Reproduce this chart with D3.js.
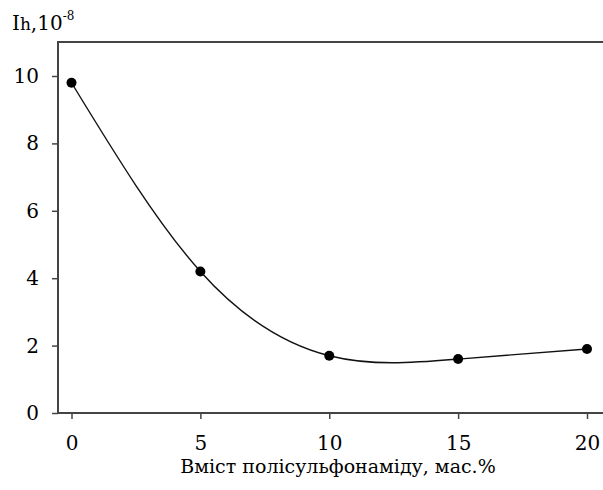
<!DOCTYPE html>
<html>
<head>
<meta charset="utf-8">
<script src="https://cdn.jsdelivr.net/npm/d3@7"></script>
<style>
  body { margin: 0; background: #fff; }
</style>
</head>
<body>
<svg id="chart" width="603" height="490"></svg>
<script>
// data
var content = [0, 5, 10, 15, 20];
var current = [9.8, 4.2, 1.7, 1.6, 1.9];
var xTicks = [0, 5, 10, 15, 20];
var yTicks = [0, 2, 4, 6, 8, 10];

var serif = "DejaVu Serif";
var svg = d3.select("#chart");

// plot edges
var plotLeft = 58, plotTop = 42, plotBottom = 413, plotRight = 603;

var x = d3.scaleLinear().domain([0, 20]).range([71.5, 587]);
var y = d3.scaleLinear().domain([0, 10]).range([plotBottom, 76]);

var yAxis = svg.append("g")
  .attr("transform", "translate(" + plotLeft + ",0)")
  .call(d3.axisLeft(y).tickValues(yTicks).tickSize(6).tickPadding(13).tickFormat(d3.format("d")));
yAxis.select(".domain").remove();

var xAxis = svg.append("g")
  .attr("transform", "translate(0," + plotBottom + ")")
  .call(d3.axisBottom(x).tickValues(xTicks).tickSize(6).tickPadding(17).tickFormat(d3.format("d")));
xAxis.select(".domain").remove();

yAxis.attr("font-family", serif).attr("font-size", 20);
xAxis.attr("font-family", serif).attr("font-size", 20);
svg.selectAll(".tick line").attr("stroke", "#444").attr("stroke-width", 1.5);
svg.selectAll(".tick text").attr("fill", "#000");

// frame: open on the right, drawn as one path
var frame = d3.path();
frame.moveTo(plotRight, plotTop);
frame.lineTo(plotLeft, plotTop);
frame.lineTo(plotLeft, plotBottom);
frame.lineTo(plotRight, plotBottom);
svg.append("path")
  .attr("d", frame.toString())
  .attr("fill", "none")
  .attr("stroke", "#444")
  .attr("stroke-width", 2);

// smooth curve through the points
var line = d3.line()
  .x(function(d, i) { return x(content[i]); })
  .y(function(d) { return y(d); })
  .curve(d3.curveNatural);

svg.append("path")
  .datum(current)
  .attr("d", line)
  .attr("fill", "none")
  .attr("stroke", "#111")
  .attr("stroke-width", 1.4);

svg.selectAll(".pt")
  .data(current)
  .enter().append("circle")
  .attr("class", "pt")
  .attr("cx", function(d, i) { return x(content[i]); })
  .attr("cy", function(d) { return y(d); })
  .attr("r", 5)
  .attr("fill", "#000");

// axis titles
var yTitle = svg.append("text")
  .attr("x", 12).attr("y", 30)
  .attr("font-family", serif)
  .attr("font-size", 20);
yTitle.append("tspan").text("I");
yTitle.append("tspan").attr("font-size", 17).text("h");
yTitle.append("tspan").text(",10");
yTitle.append("tspan").attr("dy", -10).attr("font-size", 12).text("-8");

svg.append("text")
  .attr("x", 338).attr("y", 473)
  .attr("text-anchor", "middle")
  .attr("font-family", serif)
  .attr("font-size", 19)
  .text("Вміст полісульфонаміду, мас.%");
</script>
</body>
</html>
